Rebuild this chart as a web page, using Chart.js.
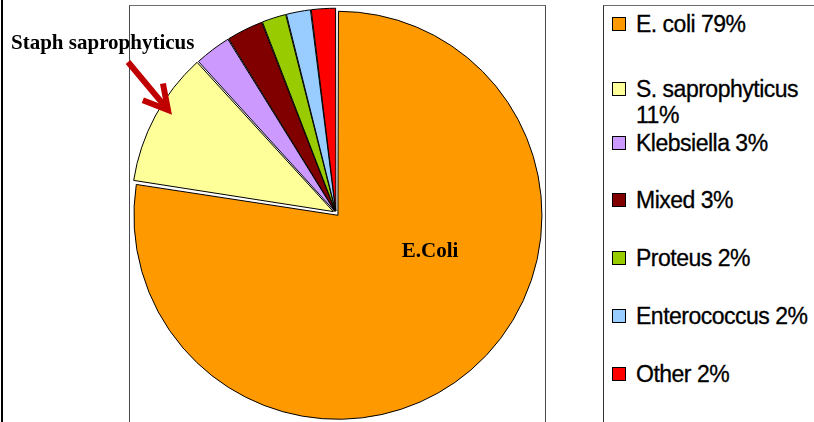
<!DOCTYPE html>
<html>
<head>
<meta charset="utf-8">
<script src="https://cdn.jsdelivr.net/npm/chart.js@4"></script>
<style>
  html, body { margin: 0; padding: 0; background: #fff; overflow: hidden; }
  #wrap { position: relative; width: 814px; height: 422px; overflow: hidden; }
  #frame-left { position: absolute; left: 1px; top: 0; width: 2px; height: 422px; background: #000; }
  #plot-box { position: absolute; left: 129px; top: 5px; width: 415px; height: 460px;
              border: 1px solid #4a4a4a; border-top-color: #6e6e6e; }
  #legend-box { position: absolute; left: 603px; top: 5px; width: 260px; height: 460px;
                border: 1px solid #333; border-top-color: #6e6e6e; }
  #chart { position: absolute; left: 0; top: 0; }
  #legend { list-style: none; margin: 0; padding: 0 0 0 8px;
            font: 23px/26px "Liberation Sans", Arial, sans-serif; letter-spacing: -0.5px;
            -webkit-text-stroke: 0.3px #000; color: #000; }
  #legend li { position: relative; padding-left: 24px; width: 180px; margin-top: 32px; }
  #legend li:nth-child(1) { margin-top: 5px; }
  #legend li:nth-child(2) { margin-top: 39px; }
  #legend li:nth-child(3) { margin-top: 2px; }
  #legend li:nth-child(4) { margin-top: 31px; }
  #legend li:nth-child(5) { margin-top: 32px; }
  #legend .swatch { position: absolute; left: 0; top: 6px; width: 12px; height: 12px; border: 1px solid #000; }
</style>
</head>
<body>
<div id="wrap">
  <div id="frame-left"></div>
  <div id="plot-box"></div>
  <div id="legend-box"><ul id="legend"></ul></div>
  <canvas id="chart" width="814" height="422"></canvas>
</div>
<script>
// --- Datos ---
const categories  = ['E. coli', 'S. saprophyticus', 'Klebsiella', 'Mixed', 'Proteus', 'Enterococcus', 'Other'];
const percentages = [79, 11, 3, 3, 2, 2, 2];
const calloutText = 'Staph saprophyticus';
const sliceLabel  = 'E.Coli';

// --- Estilo ---
const sliceColors  = ['#FF9900', '#FFFF99', '#CC99FF', '#800000', '#99CC00', '#99CCFF', '#FF0000'];
const sliceOffsets = [12, 12, 8, 8, 8, 8, 8];
const serifFont = 'bold 21px "Liberation Serif", "Times New Roman", serif';

// Leyenda HTML a partir de los items que genera Chart.js
const htmlLegend = {
  id: 'htmlLegend',
  afterUpdate(chart) {
    const ul = document.getElementById('legend');
    ul.innerHTML = '';
    const items = chart.options.plugins.legend.labels.generateLabels(chart);
    items.forEach(item => {
      const li = document.createElement('li');
      const sw = document.createElement('span');
      sw.className = 'swatch';
      sw.style.background = item.fillStyle;
      li.appendChild(sw);
      li.appendChild(document.createTextNode(`${item.text} ${percentages[item.index]}%`));
      ul.appendChild(li);
    });
  }
};

// Texto de llamada, flecha y etiqueta dentro del sector
const annotations = {
  id: 'annotations',
  afterDatasetsDraw(chart) {
    const ctx = chart.ctx;
    const arc = chart.getDatasetMeta(0).data[0];
    const cx = arc.x, cy = arc.y;
    ctx.save();
    ctx.fillStyle = '#000';
    ctx.font = serifFont;
    ctx.textBaseline = 'alphabetic';
    ctx.textAlign = 'left';
    ctx.fillText(calloutText, 11, 49);
    ctx.textAlign = 'center';
    ctx.fillText(sliceLabel, cx + 94, cy + 44);

    // flecha
    const tail = { x: cx - 208, y: cy - 151 };
    const tip  = { x: cx - 168, y: cy - 103 };
    const ang = Math.atan2(tip.y - tail.y, tip.x - tail.x);
    const head = 27, spread = 29 * Math.PI / 180;
    ctx.strokeStyle = '#c00000';
    ctx.lineWidth = 6;
    ctx.lineJoin = 'miter';
    ctx.beginPath();
    ctx.moveTo(tail.x, tail.y);
    ctx.lineTo(tip.x - 4 * Math.cos(ang), tip.y - 4 * Math.sin(ang));
    ctx.stroke();
    ctx.beginPath();
    ctx.moveTo(tip.x - head * Math.cos(ang - spread), tip.y - head * Math.sin(ang - spread));
    ctx.lineTo(tip.x, tip.y);
    ctx.lineTo(tip.x - head * Math.cos(ang + spread), tip.y - head * Math.sin(ang + spread));
    ctx.stroke();
    ctx.restore();
  }
};

new Chart(document.getElementById('chart'), {
  type: 'pie',
  data: {
    labels: categories,
    datasets: [{
      data: percentages,
      backgroundColor: sliceColors,
      borderColor: '#000',
      borderWidth: 1,
      offset: sliceOffsets
    }]
  },
  options: {
    responsive: false,
    animation: false,
    radius: 201,
    layout: { padding: { left: 0, right: 142, top: 4, bottom: 0 } },
    plugins: { legend: { display: false }, tooltip: { enabled: false } }
  },
  plugins: [htmlLegend, annotations]
});
</script>
</body>
</html>
